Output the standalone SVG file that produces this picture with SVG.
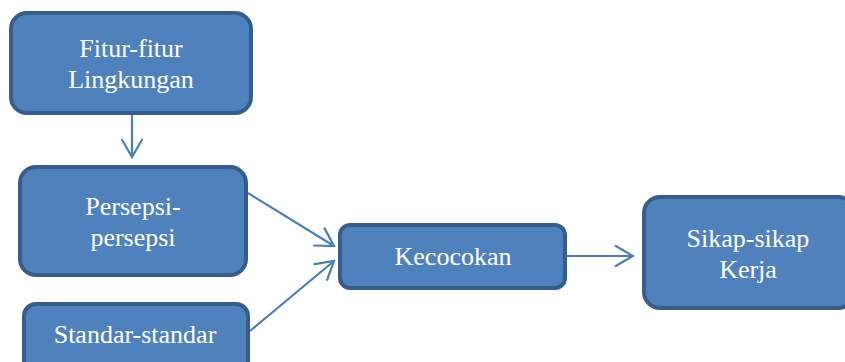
<svg xmlns="http://www.w3.org/2000/svg" width="845" height="362" viewBox="0 0 845 362">
<style>
.box{fill:#4f81bd;stroke:#385d8a;stroke-width:4}
.t{font-family:"Liberation Serif","Times New Roman",serif;font-size:26px;fill:#ffffff;text-anchor:middle}
.c{stroke:#4a7ebb;stroke-width:2.2;fill:none}
</style>
<defs>
<marker id="ah" viewBox="0 0 22 24" refX="20" refY="12" markerWidth="22" markerHeight="24" markerUnits="userSpaceOnUse" orient="auto">
<path d="M2,1.5 L20,12 L2,22.5" fill="none" stroke="#4a7ebb" stroke-width="2.2"/>
</marker>
</defs>
<rect width="845" height="362" fill="#ffffff"/>
<g id="connectors">
<line class="c" x1="132" y1="115" x2="132" y2="157" marker-end="url(#ah)"/>
<line class="c" x1="248" y1="193" x2="334" y2="246" marker-end="url(#ah)"/>
<line class="c" x1="250" y1="331" x2="334" y2="261" marker-end="url(#ah)"/>
<line class="c" x1="567" y1="256" x2="633" y2="256" marker-end="url(#ah)"/>
</g>
<g id="fitur">
<rect class="box" x="11" y="13" width="240" height="100" rx="16"/>
<text class="t" x="131" y="57">Fitur-fitur</text>
<text class="t" x="131" y="88">Lingkungan</text>
</g>
<g id="persepsi">
<rect class="box" x="20" y="167" width="226" height="108" rx="16"/>
<text class="t" x="133" y="215">Persepsi-</text>
<text class="t" x="133" y="246">persepsi</text>
</g>
<g id="standar">
<rect class="box" x="24" y="304" width="224" height="70" rx="12"/>
<text class="t" x="135" y="343">Standar-standar</text>
</g>
<g id="kecocokan">
<rect class="box" x="340" y="225" width="225" height="63" rx="10"/>
<text class="t" x="453" y="265">Kecocokan</text>
</g>
<g id="sikap">
<rect class="box" x="644" y="197" width="210" height="111" rx="16"/>
<text class="t" x="748" y="247">Sikap-sikap</text>
<text class="t" x="748" y="278">Kerja</text>
</g>
</svg>
